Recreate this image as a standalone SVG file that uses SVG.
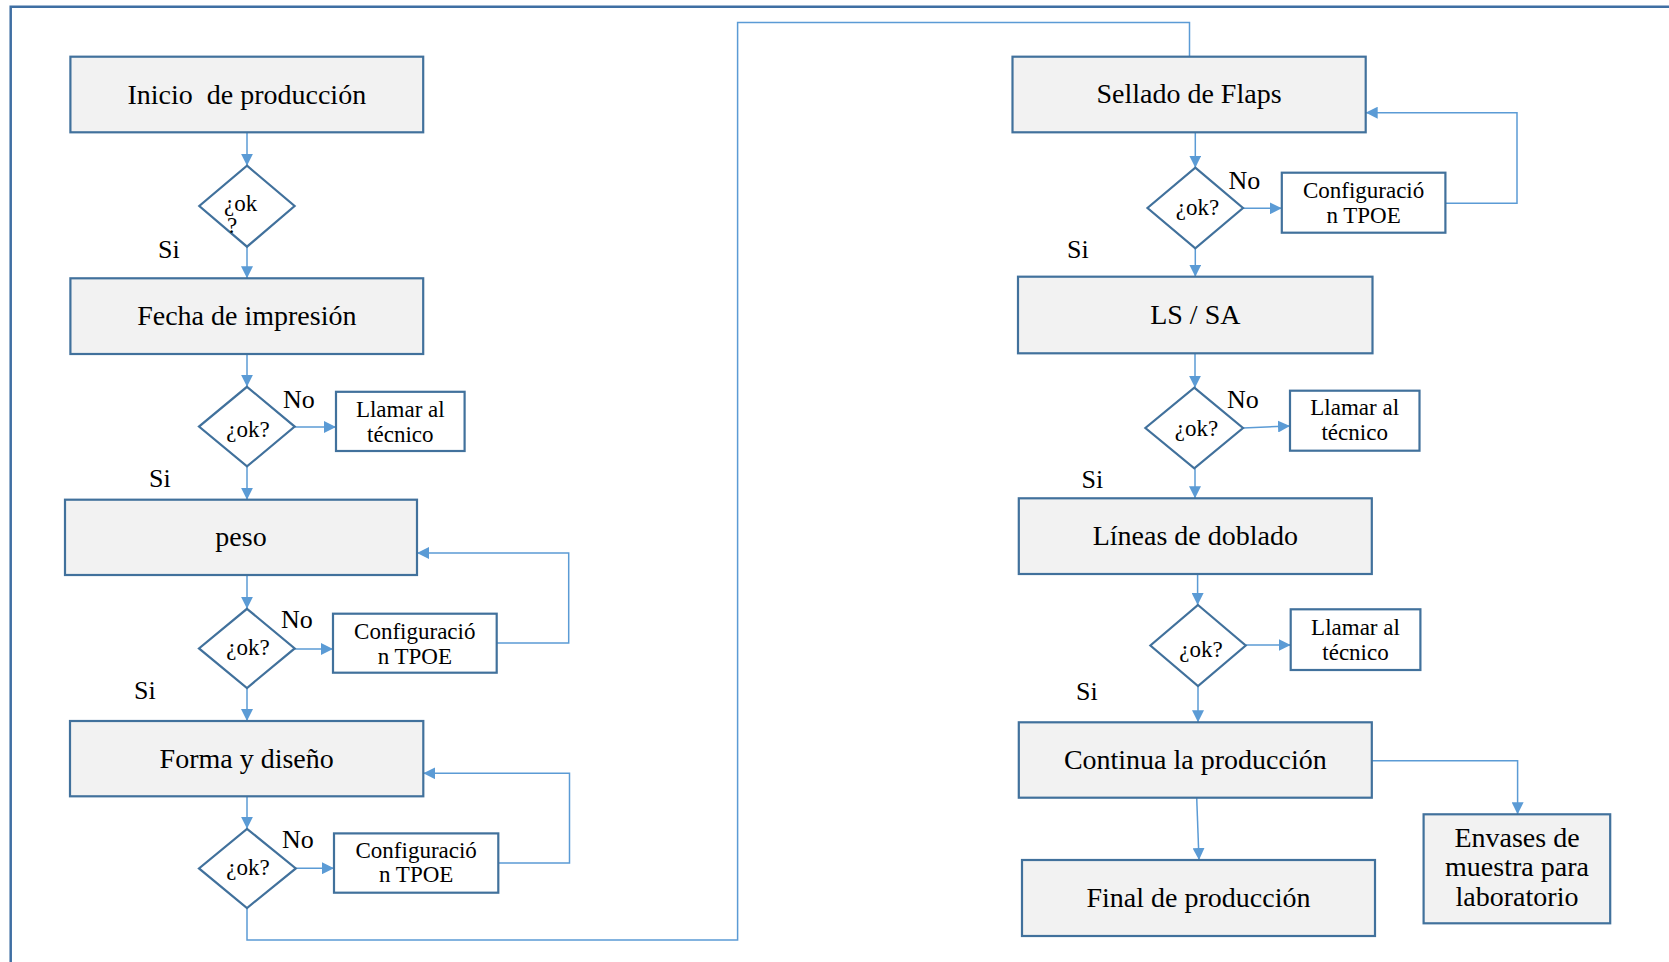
<svg xmlns="http://www.w3.org/2000/svg" width="1669" height="962" viewBox="0 0 1669 962">
<style>
.box{fill:#F2F2F2;stroke:#41719C;stroke-width:2.2}
.sbox{fill:#FFFFFF;stroke:#41719C;stroke-width:2.2}
.dia{fill:#FFFFFF;stroke:#41719C;stroke-width:2.2}
.t{font-family:"Liberation Serif","Times New Roman",serif;fill:#000}
.big{font-size:28px;text-anchor:middle}
.sm{font-size:23px;text-anchor:middle}
.lbl{font-size:26px}
.c{fill:none;stroke:#5B9BD5;stroke-width:1.5}
.a{marker-end:url(#ah)}
</style>
<defs>
<marker id="ah" viewBox="0 0 12 12" refX="12" refY="6" markerWidth="12" markerHeight="12" markerUnits="userSpaceOnUse" orient="auto">
<path d="M0,0 L12,6 L0,12 z" fill="#5B9BD5"/>
</marker>
</defs>
<rect width="1669" height="962" fill="#FFFFFF"/>
<path d="M10.7,962 L10.7,6.7 L1669,6.7" fill="none" stroke="#3F6FA3" stroke-width="2.5"/>

<g id="connectors">
<path class="c a" d="M247,132.3 L247,165.7"/>
<path class="c a" d="M247,246.7 L247,278.3"/>
<path class="c a" d="M247,354 L247,386.8"/>
<path class="c a" d="M294.7,427 L336,427"/>
<path class="c a" d="M247,466.4 L247,499.7"/>
<path class="c a" d="M247,575 L247,608.8"/>
<path class="c a" d="M294.7,649 L333,649"/>
<path class="c a" d="M496.7,643 L568.7,643 L568.7,553 L417,553"/>
<path class="c a" d="M247,688 L247,721"/>
<path class="c a" d="M247,796.3 L247,828.8"/>
<path class="c a" d="M295.8,868.2 L334,868.2"/>
<path class="c a" d="M498.3,863 L569.5,863 L569.5,773.3 L423.3,773.3"/>
<path class="c" d="M247,908 L247,940 L737.6,940 L737.6,22.5 L1189.5,22.5 L1189.5,56.7"/>
<path class="c a" d="M1195.3,132.3 L1195.3,167.7"/>
<path class="c a" d="M1243,208.3 L1281.8,208.3"/>
<path class="c a" d="M1445.4,203.3 L1517,203.3 L1517,112.7 L1365.7,112.7"/>
<path class="c a" d="M1195.3,248.3 L1195.3,276.7"/>
<path class="c a" d="M1195,353.3 L1195,387.7"/>
<path class="c a" d="M1243,428 L1290,426"/>
<path class="c a" d="M1195,468.3 L1195,498.3"/>
<path class="c a" d="M1197.6,574 L1197.6,605"/>
<path class="c a" d="M1245.7,645 L1290.7,645"/>
<path class="c a" d="M1198,686 L1198,722.3"/>
<path class="c a" d="M1196.7,797.7 L1199,860"/>
<path class="c a" d="M1371.8,760.7 L1517.6,760.7 L1517.6,814.3"/>
</g>

<g id="inicio">
<rect class="box" x="70.4" y="56.7" width="352.8" height="75.6"/>
<text class="t big" x="246.8" y="103.5" xml:space="preserve">Inicio  de producción</text>
</g>
<g id="ok1">
<polygon class="dia" points="247,165.7 294.6,206 247,246.7 199.3,206"/>
<text class="t" x="224" y="211" font-size="23">¿ok</text>
<text class="t" x="227" y="233" font-size="23">?</text>
</g>
<text class="t lbl" x="158" y="258">Si</text>
<g id="fecha">
<rect class="box" x="70.4" y="278.3" width="352.8" height="75.7"/>
<text class="t big" x="246.8" y="325">Fecha de impresión</text>
</g>
<g id="ok2">
<polygon class="dia" points="247,386.8 294.7,426.6 247,466.4 199,426.6"/>
<text class="t sm" x="248" y="436.5">¿ok?</text>
</g>
<text class="t lbl" x="283" y="408">No</text>
<g id="llamar1">
<rect class="sbox" x="336" y="391.8" width="128.6" height="59.2"/>
<text class="t sm" x="400.3" y="417.4">Llamar al</text>
<text class="t sm" x="400.3" y="441.5">técnico</text>
</g>
<text class="t lbl" x="149" y="487.4">Si</text>
<g id="peso">
<rect class="box" x="65" y="499.7" width="352" height="75.3"/>
<text class="t big" x="241" y="545.6">peso</text>
</g>
<g id="ok3">
<polygon class="dia" points="247,608.8 294.7,648.4 247,688 199,648.4"/>
<text class="t sm" x="248" y="654.7">¿ok?</text>
</g>
<text class="t lbl" x="281" y="628">No</text>
<g id="config1">
<rect class="sbox" x="333" y="613.7" width="163.7" height="59"/>
<text class="t sm" x="414.8" y="638.6">Configuració</text>
<text class="t sm" x="414.8" y="663.5">n TPOE</text>
</g>
<text class="t lbl" x="134" y="698.7">Si</text>
<g id="forma">
<rect class="box" x="70" y="721" width="353.3" height="75.3"/>
<text class="t big" x="246.7" y="767.6">Forma y diseño</text>
</g>
<g id="ok4">
<polygon class="dia" points="247,828.8 295.8,868.4 247,908 199,868.4"/>
<text class="t sm" x="248" y="874.7">¿ok?</text>
</g>
<text class="t lbl" x="282" y="848">No</text>
<g id="config2">
<rect class="sbox" x="334" y="833.4" width="164.3" height="59.3"/>
<text class="t sm" x="416.2" y="857.5">Configuració</text>
<text class="t sm" x="416.2" y="882.4">n TPOE</text>
</g>

<g id="sellado">
<rect class="box" x="1012.5" y="56.7" width="353.2" height="75.6"/>
<text class="t big" x="1189" y="103" xml:space="preserve">Sellado de Flaps</text>
</g>
<g id="ok5">
<polygon class="dia" points="1195.3,167.7 1243,208 1195.3,248.3 1147.5,208"/>
<text class="t sm" x="1197.5" y="215">¿ok?</text>
</g>
<text class="t lbl" x="1228.6" y="188.5">No</text>
<g id="config3">
<rect class="sbox" x="1281.8" y="172.7" width="163.6" height="60"/>
<text class="t sm" x="1363.6" y="198.3">Configuració</text>
<text class="t sm" x="1363.6" y="222.7">n TPOE</text>
</g>
<text class="t lbl" x="1067" y="258.3">Si</text>
<g id="lssa">
<rect class="box" x="1018" y="276.7" width="354.5" height="76.6"/>
<text class="t big" x="1195.3" y="324">LS / SA</text>
</g>
<g id="ok6">
<polygon class="dia" points="1194.3,387.7 1243,428 1194.3,468.3 1145.4,428"/>
<text class="t sm" x="1196.5" y="436">¿ok?</text>
</g>
<text class="t lbl" x="1227" y="408.3">No</text>
<g id="llamar2">
<rect class="sbox" x="1290" y="390.7" width="129.5" height="60"/>
<text class="t sm" x="1354.7" y="415">Llamar al</text>
<text class="t sm" x="1354.7" y="440">técnico</text>
</g>
<text class="t lbl" x="1081.5" y="488">Si</text>
<g id="lineas">
<rect class="box" x="1018.8" y="498.3" width="353" height="75.7"/>
<text class="t big" x="1195.3" y="545">Líneas de doblado</text>
</g>
<g id="ok7">
<polygon class="dia" points="1198,605 1245.7,645.5 1198,686 1150.4,645.5"/>
<text class="t sm" x="1201" y="656.7">¿ok?</text>
</g>
<g id="llamar3">
<rect class="sbox" x="1290.7" y="609.3" width="129.7" height="60.7"/>
<text class="t sm" x="1355.5" y="635">Llamar al</text>
<text class="t sm" x="1355.5" y="660">técnico</text>
</g>
<text class="t lbl" x="1076" y="700">Si</text>
<g id="continua">
<rect class="box" x="1018.8" y="722.3" width="353" height="75.4"/>
<text class="t big" x="1195.3" y="769">Continua la producción</text>
</g>
<g id="final">
<rect class="box" x="1022" y="860" width="353" height="76"/>
<text class="t big" x="1198.5" y="907">Final de producción</text>
</g>
<g id="envases">
<rect class="box" x="1423.6" y="814.3" width="186.6" height="109"/>
<text class="t big" x="1517" y="846.7">Envases de</text>
<text class="t big" x="1517" y="876.4">muestra para</text>
<text class="t big" x="1517" y="906">laboratorio</text>
</g>
</svg>
